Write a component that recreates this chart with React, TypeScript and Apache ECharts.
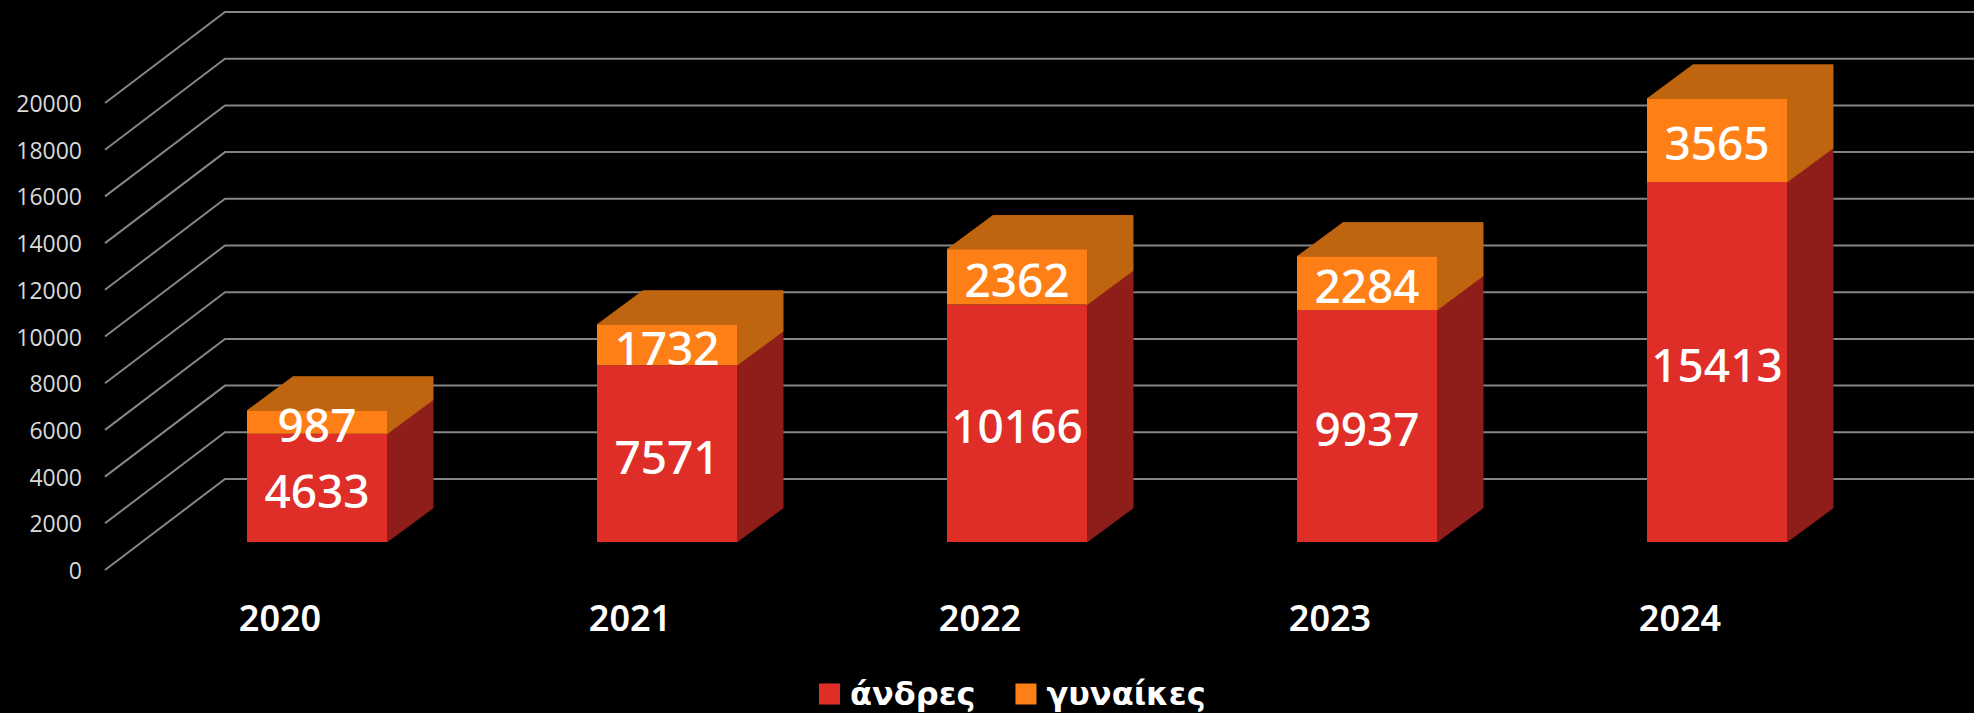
import React, { useEffect, useRef } from "react";
import * as echarts from "echarts";

const years = ["2020", "2021", "2022", "2023", "2024"];
const men = [4633, 7571, 10166, 9937, 15413];
const women = [987, 1732, 2362, 2284, 3565];
const ticks = [0, 2000, 4000, 6000, 8000, 10000, 12000, 14000, 16000, 18000, 20000];
const menName = "άνδρες";
const womenName = "γυναίκες";

const RED = "#DF2E28";
const RED_SIDE = "#8F1D19";
const ORANGE = "#FF7F17";
const ORANGE_DARK = "#BF640F";
const GRID = "#858585";

// Oblique projection: floor depth, and where a bar sits within it
const WALL_DX = 120;
const WALL_DY = -91;
const BAR_OFFSET_X = 37;
const BAR_OFFSET_Y = -28;
const BAR_DX = 46;
const BAR_DY = -34;
const BAR_RATIO = 0.4;
const LABEL_NUDGE_Y = 2;

const wallRender = (params: any, api: any) => {
  const sys = params.coordSys;
  const y = api.coord([0, api.value(0)])[1];
  return {
    type: "polyline",
    shape: { points: [[sys.x, y], [sys.x + WALL_DX, y + WALL_DY], [api.getWidth(), y + WALL_DY]] },
    style: { stroke: GRID, lineWidth: 2, fill: "none" },
  };
};

const barRender = (front: string, side: string, withTop: boolean) => (_: any, api: any) => {
  const cat = api.value(0);
  const p0 = api.coord([cat, api.value(1)]);
  const p1 = api.coord([cat, api.value(2)]);
  const w = api.size([1, 0])[0] * BAR_RATIO;
  const xl = p0[0] + BAR_OFFSET_X - w / 2;
  const xr = xl + w;
  const yb = p0[1] + BAR_OFFSET_Y;
  const yt = p1[1] + BAR_OFFSET_Y;
  const children: any[] = [
    {
      type: "polygon",
      shape: { points: [[xr, yb], [xr + BAR_DX, yb + BAR_DY], [xr + BAR_DX, yt + BAR_DY], [xr, yt]] },
      style: { fill: side, stroke: side, lineWidth: 1 },
    },
  ];
  if (withTop) {
    children.push({
      type: "polygon",
      shape: { points: [[xl, yt], [xl + BAR_DX, yt + BAR_DY], [xr + BAR_DX, yt + BAR_DY], [xr, yt]] },
      style: { fill: side, stroke: side, lineWidth: 1 },
    });
  }
  children.push({
    type: "rect",
    shape: { x: xl, y: yt, width: w, height: yb - yt },
    style: { fill: front },
  });
  children.push({
    type: "text",
    x: (xl + xr) / 2,
    y: (yt + yb) / 2 + LABEL_NUDGE_Y,
    z2: 10,
    style: {
      text: String(api.value(3)),
      x: 0,
      y: 0,
      align: "center",
      verticalAlign: "middle",
      fill: "#FFFFFF",
      fontFamily: "Noto Sans",
      fontWeight: 500,
      fontSize: 46,
    },
  });
  return { type: "group", children };
};

export default function App() {
  const ref = useRef<HTMLDivElement>(null);
  useEffect(() => {
    const chart = echarts.init(ref.current!, undefined, { renderer: "svg" });
    chart.setOption({
      animation: false,
      backgroundColor: "#000000",
      grid: { left: 105, top: 103, width: 1750, height: 467, containLabel: false },
      xAxis: {
        type: "category",
        data: years,
        axisLine: { show: false },
        axisTick: { show: false },
        axisLabel: { color: "#FFFFFF", fontFamily: "Noto Sans", fontWeight: 600, fontSize: 36, margin: 29 },
      },
      yAxis: {
        type: "value",
        min: 0,
        max: 20000,
        interval: 2000,
        axisLine: { show: false },
        axisTick: { show: false },
        splitLine: { show: false },
        axisLabel: {
          color: "#D9D9D9",
          fontFamily: "Open Sans",
          fontSize: 23,
          margin: 23,
          formatter: (v: number) => String(v),
        },
      },
      legend: {
        data: [menName, womenName],
        left: 814,
        top: 673,
        icon: "rect",
        itemWidth: 21,
        itemHeight: 21,
        itemGap: 40,
        textStyle: { color: "#FFFFFF", fontFamily: "DejaVu Sans", fontWeight: "bold", fontSize: 32, padding: [0, 0, 0, 5] },
      },
      series: [
        {
          type: "custom",
          name: "wall",
          silent: true,
          z: 1,
          renderItem: wallRender,
          data: ticks.map((t) => [t]),
          encode: { y: 0 },
        },
        {
          type: "custom",
          name: menName,
          z: 2,
          itemStyle: { color: RED },
          renderItem: barRender(RED, RED_SIDE, false),
          data: men.map((v, i) => [i, 0, v, v]),
          encode: { x: 0, y: [1, 2] },
        },
        {
          type: "custom",
          name: womenName,
          z: 3,
          itemStyle: { color: ORANGE },
          renderItem: barRender(ORANGE, ORANGE_DARK, true),
          data: women.map((v, i) => [i, men[i], men[i] + v, v]),
          encode: { x: 0, y: [1, 2] },
        },
      ],
    });
    return () => chart.dispose();
  }, []);
  return <div ref={ref} style={{ position: "fixed", left: 0, top: 0, width: 1974, height: 713 }} />;
}
